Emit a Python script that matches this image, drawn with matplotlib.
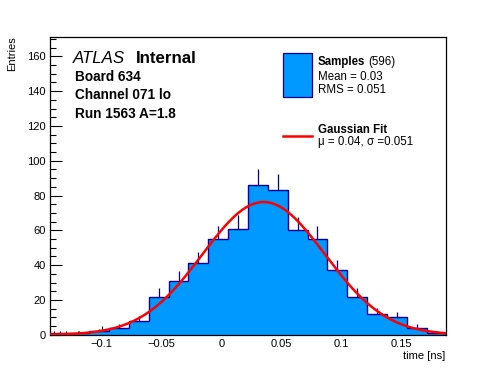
import numpy as np
import matplotlib
matplotlib.use("Agg")
import matplotlib.pyplot as plt
from matplotlib.ticker import MultipleLocator, FuncFormatter

plt.rcParams['font.family'] = ['Liberation Sans', 'DejaVu Sans']
plt.rcParams['axes.unicode_minus'] = False

# histogram contents (20 bins)
x_min = -0.1434
x_max = 0.1873
n_bins = 20
counts = [1, 1, 2, 4, 8, 22, 31, 41, 55, 61, 86, 83, 60, 55, 37, 22, 12, 10, 4, 1]

# gaussian fit parameters
fit_amp = 76.3
fit_mu = 0.035
fit_sigma = 0.051

y_max = 171

W, H = 496, 372


def fx(px):
    return px / W


def fy(py):
    return 1 - py / H


fig = plt.figure(figsize=(W / 100, H / 100), dpi=100)
ax = fig.add_axes([0.1, 0.1, 0.8, 0.8])

edges = np.linspace(x_min, x_max, n_bins + 1)
centers = 0.5 * (edges[:-1] + edges[1:])
counts = np.array(counts, dtype=float)

fill_col = '#0099ff'
edge_col = '#000099'

ax.errorbar(centers, counts, yerr=np.sqrt(counts), fmt='none',
            ecolor=edge_col, elinewidth=0.9, capsize=0, zorder=1)
ax.stairs(counts, edges, fill=True, color=fill_col, zorder=2)
ax.stairs(counts, edges, fill=False, color=edge_col, linewidth=1.0,
          baseline=0, zorder=3)

xf = np.linspace(x_min, x_max, 400)
yf = fit_amp * np.exp(-0.5 * ((xf - fit_mu) / fit_sigma) ** 2)
ax.plot(xf, yf, color='#ff0000', linewidth=1.8, zorder=4)

ax.set_xlim(x_min, x_max)
ax.set_ylim(0, y_max)

ax.xaxis.set_major_locator(MultipleLocator(0.05))
ax.xaxis.set_minor_locator(MultipleLocator(0.01))
ax.yaxis.set_major_locator(MultipleLocator(20))
ax.yaxis.set_minor_locator(MultipleLocator(5))
ax.xaxis.set_major_formatter(FuncFormatter(lambda v, p: '0' if abs(v) < 1e-9 else ('%g' % round(v, 3)).replace('-', '\u2212')))

ax.tick_params(axis='x', which='major', direction='in', length=6.4, width=0.8,
               labelsize=8, pad=3.2, top=False)
ax.tick_params(axis='x', which='minor', direction='in', length=3.2, width=0.8, top=False)
ax.tick_params(axis='y', which='major', direction='in', length=8.6, width=0.8,
               labelsize=8, pad=2.6, right=False)
ax.tick_params(axis='y', which='minor', direction='in', length=4.3, width=0.8, right=False)
for s in ax.spines.values():
    s.set_linewidth(0.9)

# axis titles
fig.text(fx(11.7), fy(36.7), 'Entries', rotation=90, ha='center', va='top', fontsize=8)
fig.text(fx(445), fy(359.3), 'time [ns]', ha='right', va='baseline', fontsize=8)

# labels
fig.text(fx(73.3), fy(63.3), 'ATLAS', fontstyle='italic', fontsize=12.2, va='baseline')
fig.text(fx(136), fy(63.3), 'Internal', fontweight='bold', fontsize=12.2, va='baseline')
fig.text(fx(75), fy(81), 'Board 634', fontweight='bold', fontsize=9.8, va='baseline')
fig.text(fx(75), fy(99.3), 'Channel 071 lo', fontweight='bold', fontsize=9.8, va='baseline')
fig.text(fx(75), fy(117.7), 'Run 1563 A=1.8', fontweight='bold', fontsize=9.8, va='baseline')

# legend drawn by hand
fig.patches.append(plt.Rectangle((fx(283), fy(96.7)), fx(311.7) - fx(283), fy(53.3) - fy(96.7),
                                 transform=fig.transFigure, facecolor=fill_col,
                                 edgecolor=edge_col, linewidth=0.9))
fig.add_artist(plt.Line2D([fx(283), fx(311.7)], [fy(136.3), fy(136.3)],
                          transform=fig.transFigure, color='#ff0000', linewidth=1.8))
fig.text(fx(317.7), fy(65), 'Samples', fontweight='bold', fontsize=8.3, va='baseline')
fig.text(fx(368), fy(65), '(596)', fontsize=8.3, va='baseline')
fig.text(fx(317.7), fy(80), 'Mean = 0.03', fontsize=8.3, va='baseline')
fig.text(fx(317.7), fy(93.3), 'RMS = 0.051', fontsize=8.3, va='baseline')
fig.text(fx(317.7), fy(132.7), 'Gaussian Fit', fontweight='bold', fontsize=8.3, va='baseline')
fig.text(fx(317.7), fy(145), 'μ = 0.04, σ =0.051', fontsize=8.3, va='baseline')

fig.savefig('out.png', dpi=100)
